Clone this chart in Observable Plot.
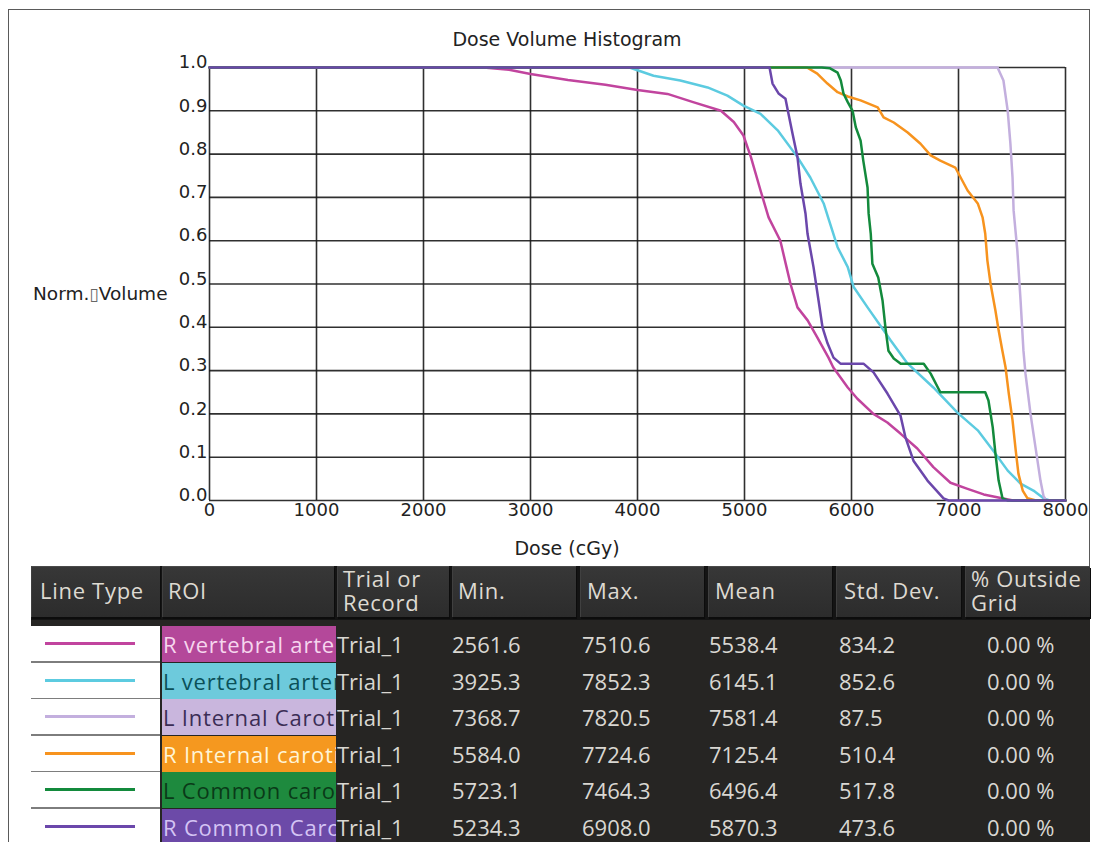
<!DOCTYPE html>
<html><head><meta charset="utf-8">
<script src="https://cdn.jsdelivr.net/npm/d3@7"></script>
<script src="https://cdn.jsdelivr.net/npm/@observablehq/plot@0.6"></script>
<style>
html,body{margin:0;padding:0;background:#fff}
body{position:relative;width:1099px;height:842px;overflow:hidden;font-family:"DejaVu Sans",sans-serif;color:#222}
#frame{position:absolute;left:8px;top:9px;width:1082px;height:900px;border:1.5px solid #5a5a5a;border-bottom:none;box-sizing:border-box}
#chart{position:absolute;left:0;top:0}
#title{position:absolute;left:367px;width:400px;top:28px;text-align:center;font-size:19px;line-height:22px}
#ylab{position:absolute;left:33px;top:283px;font-size:18.5px;line-height:22px;white-space:nowrap}
#ylab .box{font-size:17px;color:#666;font-weight:normal}
#xlab{position:absolute;left:367px;width:400px;top:537px;text-align:center;font-size:19px;line-height:22px}
#tbl{position:absolute;left:31px;top:566px;width:1059px;height:290px;background:#262523;font-family:"Open Sans",sans-serif;font-size:22px;color:#d9d7d2}
#hdr{position:absolute;left:0;top:0;width:1059px;height:54px;background:#141414}
.hcell{position:absolute;top:0;height:51px;background:linear-gradient(#373737,#2c2c2c);border-top:1px solid #4a4a4a;border-left:1px solid #404040;box-shadow:1px 2px 0 #0c0c0c;box-sizing:border-box;display:flex;align-items:center;padding-bottom:5px;line-height:24px;color:#dedad2;white-space:nowrap;letter-spacing:0.7px}
.ltcell{position:absolute;left:0;width:129px;height:35px;background:#fff;border-bottom:2px solid #7d7d7d}
.ltcell .seg{position:absolute;left:14px;width:90px;top:16px;height:3px}
.roicell{position:absolute;left:131px;width:174px;height:36px;overflow:hidden;white-space:nowrap;line-height:36px;padding-left:1px;box-sizing:border-box;letter-spacing:0.8px}
.dcell{position:absolute;line-height:36px;white-space:nowrap}
</style></head><body>
<div id="frame"></div>
<div id="chart"></div>
<div id="title">Dose Volume Histogram</div>
<div id="ylab">Norm.<span class="box">▯</span>Volume</div>
<div id="xlab">Dose (cGy)</div>
<div id="tbl"><div id="hdr"></div></div>
<script>
// ---- data ----
const roiNames = ["R vertebral artery", "L vertebral artery", "L Internal Carotid", "R Internal carotid", "L Common carotid", "R Common Carotid"];
const lineColors = ["#c1449e", "#5ccbe0", "#c3afde", "#f7931e", "#138a3c", "#6b47ab"];
const roiBg = ["#b4489a", "#6dcadc", "#c9b6dd", "#f5981f", "#1e8a3e", "#6c4aa8"];
const roiText = ["#f6d6ee", "#0b5058", "#3b2d55", "#fff4d6", "#0a3a18", "#d4c4f4"];

const rVertDose = [0, 2560, 2800, 3000, 3350, 3700, 4000, 4280, 4520, 4780, 4900, 4990, 5060, 5150, 5225, 5335, 5385, 5430, 5495, 5590, 5680, 5785, 5830, 5965, 6055, 6205, 6335, 6460, 6615, 6765, 6925, 7085, 7235, 7395, 7510, 8000];
const rVertVol  = [1, 1, 0.995, 0.985, 0.971, 0.96, 0.948, 0.939, 0.92, 0.90, 0.874, 0.843, 0.793, 0.716, 0.654, 0.60, 0.547, 0.50, 0.446, 0.416, 0.377, 0.33, 0.307, 0.261, 0.235, 0.20, 0.18, 0.154, 0.12, 0.077, 0.041, 0.027, 0.014, 0.006, 0, 0];

const lVertDose = [0, 3925, 4150, 4400, 4655, 4840, 4990, 5150, 5310, 5495, 5615, 5740, 5785, 5870, 5965, 6020, 6150, 6300, 6365, 6525, 6765, 6990, 7180, 7325, 7460, 7580, 7700, 7795, 7852, 8000];
const lVertVol  = [1, 1, 0.981, 0.97, 0.954, 0.935, 0.912, 0.893, 0.855, 0.793, 0.746, 0.686, 0.651, 0.585, 0.539, 0.493, 0.446, 0.393, 0.37, 0.316, 0.261, 0.203, 0.162, 0.115, 0.069, 0.039, 0.023, 0.005, 0, 0];

const lIntDose = [0, 7365, 7420, 7460, 7485, 7505, 7515, 7550, 7580, 7607, 7626, 7673, 7720, 7766, 7795, 7820, 8000];
const lIntVol  = [1, 1, 0.97, 0.90, 0.824, 0.746, 0.67, 0.577, 0.462, 0.346, 0.293, 0.2, 0.122, 0.046, 0.01, 0, 0];

const rIntDose = [0, 5584, 5680, 5775, 5870, 5965, 6085, 6245, 6300, 6395, 6525, 6645, 6740, 6830, 6970, 7020, 7085, 7180, 7225, 7250, 7270, 7300, 7345, 7375, 7410, 7440, 7470, 7505, 7535, 7560, 7600, 7645, 7724, 8000];
const rIntVol  = [1, 1, 0.986, 0.963, 0.943, 0.933, 0.924, 0.908, 0.885, 0.873, 0.85, 0.824, 0.797, 0.785, 0.769, 0.746, 0.716, 0.686, 0.654, 0.616, 0.554, 0.50, 0.439, 0.393, 0.346, 0.307, 0.247, 0.185, 0.115, 0.062, 0.023, 0.005, 0, 0];

const lComDose = [0, 5723, 5800, 5870, 5900, 5925, 5965, 6010, 6040, 6085, 6110, 6150, 6160, 6180, 6195, 6250, 6290, 6320, 6345, 6395, 6460, 6675, 6740, 6830, 7250, 7280, 7320, 7345, 7375, 7411, 7464, 8000];
const lComVol  = [1, 1, 0.998, 0.988, 0.97, 0.94, 0.92, 0.90, 0.862, 0.831, 0.785, 0.723, 0.663, 0.616, 0.547, 0.515, 0.462, 0.393, 0.346, 0.328, 0.316, 0.316, 0.293, 0.25, 0.25, 0.231, 0.169, 0.109, 0.046, 0.005, 0, 0];

const rComDose = [0, 5234, 5262, 5318, 5383, 5411, 5449, 5495, 5523, 5570, 5589, 5645, 5692, 5729, 5776, 5832, 5897, 6112, 6206, 6336, 6458, 6505, 6579, 6710, 6860, 6908, 8000];
const rComVol  = [1, 1, 0.963, 0.94, 0.928, 0.893, 0.847, 0.793, 0.732, 0.663, 0.616, 0.539, 0.462, 0.40, 0.363, 0.33, 0.316, 0.316, 0.296, 0.247, 0.196, 0.145, 0.092, 0.046, 0.005, 0, 0];

const xTicks = [0, 1000, 2000, 3000, 4000, 5000, 6000, 7000, 8000];
const yTicks = [0, 0.1, 0.2, 0.3, 0.4, 0.5, 0.6, 0.7, 0.8, 0.9, 1.0];

// table values
const trialNames = ["Trial_1", "Trial_1", "Trial_1", "Trial_1", "Trial_1", "Trial_1"];
const minVals  = ["2561.6", "3925.3", "7368.7", "5584.0", "5723.1", "5234.3"];
const maxVals  = ["7510.6", "7852.3", "7820.5", "7724.6", "7464.3", "6908.0"];
const meanVals = ["5538.4", "6145.1", "7581.4", "7125.4", "6496.4", "5870.3"];
const stdVals  = ["834.2", "852.6", "87.5", "510.4", "517.8", "473.6"];
const outsideVals = ["0.00 %", "0.00 %", "0.00 %", "0.00 %", "0.00 %", "0.00 %"];
const headers = ["Line Type", "ROI", "Trial or<br>Record", "Min.", "Max.", "Mean", "Std. Dev.", "% Outside<br>Grid"];

// ---- build ----
const doseArrays = [rVertDose, lVertDose, lIntDose, rIntDose, lComDose, rComDose];
const volArrays = [rVertVol, lVertVol, lIntVol, rIntVol, lComVol, rComVol];
const dvh = [];
roiNames.forEach((name, i) => {
  doseArrays[i].forEach((d, j) => dvh.push({roi: name, dose: d, vol: volArrays[i][j]}));
});

const chart = Plot.plot({
  width: 1099, height: 560,
  marginLeft: 209, marginRight: 34, marginTop: 67, marginBottom: 60,
  x: {domain: [0, 8000]},
  y: {domain: [0, 1]},
  color: {domain: roiNames, range: lineColors},
  style: {fontFamily: "DejaVu Sans", fontSize: "18px", color: "#222", background: "transparent", overflow: "visible"},
  marks: [
    Plot.gridX(xTicks, {stroke: "#1a1a1a", strokeOpacity: 0.9, strokeWidth: 1.6}),
    Plot.gridY(yTicks, {stroke: "#1a1a1a", strokeOpacity: 0.9, strokeWidth: 1.6}),
    Plot.line(dvh, {x: "dose", y: "vol", z: "roi", stroke: "roi", strokeWidth: 2.5}),
    Plot.axisX(xTicks, {tickSize: 0, tickPadding: 3, tickFormat: d => String(d), label: null}),
    Plot.axisY(yTicks, {tickSize: 0, tickPadding: 2, tickFormat: d => d.toFixed(1), label: null, dy: -5})
  ]
});
document.getElementById("chart").appendChild(chart);

// table
const tbl = document.getElementById("tbl");
const hdr = document.getElementById("hdr");
const colBounds = [[0,129],[131,303],[306,418],[421,545],[549,673],[677,801],[805,930],[934,1059]];
const hdrPad = [8, 5, 5, 5, 6, 6, 7, 5];
headers.forEach((h, i) => {
  const c = document.createElement("div");
  c.className = "hcell";
  c.style.left = colBounds[i][0] + "px";
  c.style.width = (colBounds[i][1] - colBounds[i][0]) + "px";
  c.style.paddingLeft = hdrPad[i] + "px";
  c.innerHTML = "<span>" + h + "</span>";
  hdr.appendChild(c);
});
const rowTop = 60, rowH = 36.6;
const dataCols = [trialNames, minVals, maxVals, meanVals, stdVals, outsideVals];
const dataLeft = [306, 421, 551, 678, 808, 956];
roiNames.forEach((name, i) => {
  const top = rowTop + i * rowH;
  const lt = document.createElement("div");
  lt.className = "ltcell";
  lt.style.top = top + "px";
  lt.innerHTML = '<div class="seg" style="background:' + lineColors[i] + '"></div>';
  tbl.appendChild(lt);
  const roi = document.createElement("div");
  roi.className = "roicell";
  roi.style.top = top + "px";
  roi.style.background = roiBg[i];
  roi.style.color = roiText[i];
  roi.textContent = name;
  tbl.appendChild(roi);
  dataCols.forEach((col, k) => {
    const d = document.createElement("div");
    d.className = "dcell";
    d.style.top = top + "px";
    d.style.left = dataLeft[k] + "px";
    d.textContent = col[i];
    tbl.appendChild(d);
  });
});
</script>
</body></html>
